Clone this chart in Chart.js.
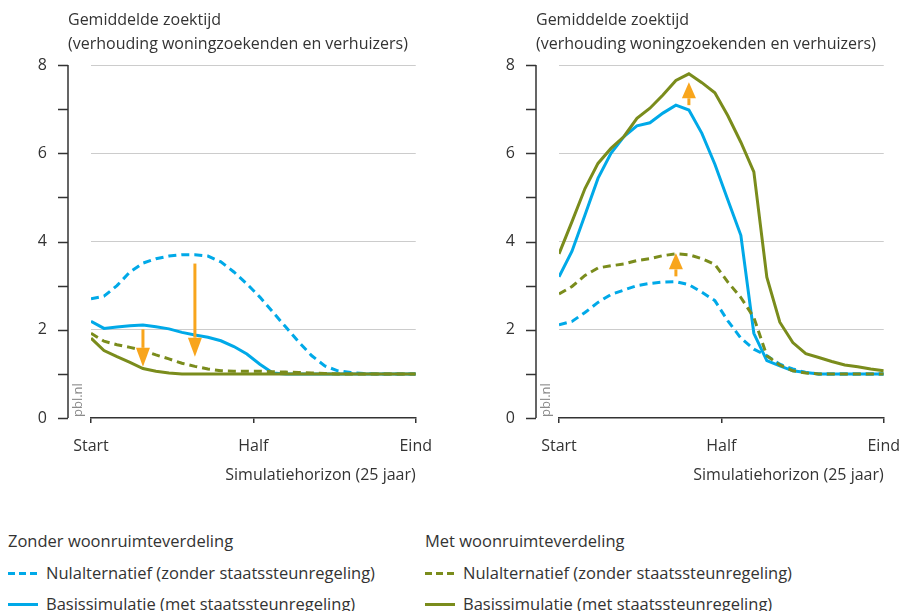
<!DOCTYPE html>
<html>
<head>
<meta charset="utf-8">
<script src="https://cdn.jsdelivr.net/npm/chart.js@4.4.0/dist/chart.umd.min.js"></script>
<style>
  body { margin: 0; background: #fff; }
  #wrap { position: relative; width: 902px; height: 611px; overflow: hidden; font-family: "Open Sans", sans-serif; color: #333; }
  .paneel { position: absolute; top: 0; width: 446px; height: 490px; }
  .leg { position: absolute; font-size: 16.5px; line-height: 20px; white-space: nowrap; }
  .staal { position: absolute; width: 30px; height: 3px; }
</style>
</head>
<body>
<div id="wrap">
  <div class="paneel" style="left:0"><canvas id="links"></canvas></div>
  <div class="paneel" style="left:468px"><canvas id="rechts"></canvas></div>
  <div id="legenda"></div>
</div>
<script>
// jaren 0..25 van de simulatie
const jaren = Array.from({ length: 26 }, (_, i) => i);
const xTicks = [0, 12.5, 25];
const xTickLabels = ['Start', 'Half', 'Eind'];

const titel = ['Gemiddelde zoektijd', '(verhouding woningzoekenden en verhuizers)'];
const xTitel = 'Simulatiehorizon (25 jaar)';

// linker paneel
const linksZonderNul   = [2.70, 2.76, 3.00, 3.31, 3.51, 3.61, 3.67, 3.70, 3.70, 3.67, 3.54, 3.31, 3.04, 2.74, 2.40, 2.06, 1.72, 1.41, 1.18, 1.07, 1.03, 1.01, 1.00, 1.00, 1.00, 1.00];
const linksZonderBasis = [2.19, 2.03, 2.06, 2.09, 2.11, 2.07, 2.02, 1.94, 1.88, 1.83, 1.75, 1.62, 1.45, 1.22, 1.02, 1.00, 1.00, 1.00, 1.00, 1.00, 1.00, 1.00, 1.00, 1.00, 1.00, 1.00];
const linksMetNul      = [1.92, 1.74, 1.66, 1.60, 1.53, 1.43, 1.34, 1.24, 1.17, 1.11, 1.07, 1.06, 1.06, 1.06, 1.05, 1.04, 1.03, 1.02, 1.01, 1.00, 1.00, 1.00, 1.00, 1.00, 1.00, 1.00];
const linksMetBasis    = [1.81, 1.53, 1.39, 1.26, 1.12, 1.06, 1.02, 1.00, 1.00, 1.00, 1.00, 1.00, 1.00, 1.00, 1.00, 1.00, 1.00, 1.00, 1.00, 1.00, 1.00, 1.00, 1.00, 1.00, 1.00, 1.00];

// rechter paneel
const rechtsZonderNul   = [2.11, 2.19, 2.39, 2.62, 2.80, 2.90, 3.00, 3.05, 3.08, 3.09, 3.02, 2.85, 2.66, 2.20, 1.81, 1.56, 1.41, 1.22, 1.11, 1.03, 1.00, 1.00, 1.00, 1.00, 1.00, 1.00];
const rechtsZonderBasis = [3.20, 3.78, 4.60, 5.43, 6.00, 6.38, 6.62, 6.69, 6.91, 7.09, 6.98, 6.45, 5.75, 4.94, 4.14, 1.92, 1.30, 1.18, 1.07, 1.03, 1.00, 1.00, 1.00, 1.00, 1.00, 1.00];
const rechtsMetNul      = [2.81, 2.98, 3.23, 3.40, 3.45, 3.49, 3.57, 3.61, 3.68, 3.72, 3.70, 3.61, 3.48, 3.08, 2.73, 2.28, 1.41, 1.20, 1.07, 1.02, 1.00, 1.00, 1.00, 1.00, 1.00, 1.00];
const rechtsMetBasis    = [3.72, 4.45, 5.20, 5.77, 6.11, 6.38, 6.79, 7.02, 7.32, 7.65, 7.80, 7.60, 7.37, 6.85, 6.25, 5.58, 3.19, 2.17, 1.71, 1.46, 1.37, 1.28, 1.20, 1.16, 1.11, 1.07];

// pijlen: jaar, beginwaarde, eindwaarde (punt)
const linksPijlen  = [{ jaar: 8, van: 3.50, naar: 1.39 }, { jaar: 4, van: 2.01, naar: 1.16 }];
const rechtsPijlen = [{ jaar: 10, van: 7.09, naar: 7.61 }, { jaar: 9, van: 3.21, naar: 3.74 }];

const BLAUW = '#00a9e8';
const GROEN = '#7a8c1c';
const ORANJE = '#f8a51c';
const TEKST = '#333333';
const FONT = '"Open Sans", sans-serif';

const reeksen = [
  { groep: 'Zonder woonruimteverdeling', label: 'Nulalternatief (zonder staatssteunregeling)', kleur: BLAUW, streep: true },
  { groep: 'Zonder woonruimteverdeling', label: 'Basissimulatie (met staatssteunregeling)', kleur: BLAUW, streep: false },
  { groep: 'Met woonruimteverdeling', label: 'Nulalternatief (zonder staatssteunregeling)', kleur: GROEN, streep: true },
  { groep: 'Met woonruimteverdeling', label: 'Basissimulatie (met staatssteunregeling)', kleur: GROEN, streep: false }
];

// y-as met streepjes links van het plotvlak, titel, bronvermelding en pijlen
const asPlugin = {
  id: 'asPlugin',
  afterDatasetsDraw(chart, args, opts) {
    const ctx = chart.ctx;
    const x = chart.scales.x, y = chart.scales.y;
    ctx.save();
    ctx.strokeStyle = ORANJE;
    ctx.fillStyle = ORANJE;
    ctx.lineWidth = 3;
    opts.pijlen.forEach(p => {
      const px = x.getPixelForValue(p.jaar);
      const y0 = y.getPixelForValue(p.van);
      const y1 = y.getPixelForValue(p.naar);
      const dir = y1 > y0 ? 1 : -1;
      const kop = Math.min(19, Math.abs(y1 - y0) * 0.7);
      ctx.beginPath();
      ctx.moveTo(px, y0);
      ctx.lineTo(px, y1 - dir * kop);
      ctx.stroke();
      ctx.beginPath();
      ctx.moveTo(px, y1);
      ctx.lineTo(px - 7, y1 - dir * kop);
      ctx.lineTo(px + 7, y1 - dir * kop);
      ctx.closePath();
      ctx.fill();
    });
    ctx.restore();
  },
  afterDraw(chart) {
    const ctx = chart.ctx;
    const y = chart.scales.y;
    const ax = chart.chartArea.left - 23;
    ctx.save();
    ctx.strokeStyle = TEKST;
    ctx.lineWidth = 1.5;
    ctx.beginPath();
    ctx.moveTo(ax, y.getPixelForValue(8));
    ctx.lineTo(ax, y.getPixelForValue(0));
    for (let v = 0; v <= 8; v++) {
      const py = Math.round(y.getPixelForValue(v)) + 0.5;
      ctx.moveTo(ax - 10, py);
      ctx.lineTo(ax, py);
    }
    ctx.stroke();

    ctx.fillStyle = TEKST;
    ctx.font = '16px ' + FONT;
    ctx.textAlign = 'left';
    ctx.textBaseline = 'middle';
    ctx.fillText(titel[0], ax, 20);
    ctx.fillText(titel[1], ax, 44);

    ctx.translate(ax + 10, y.getPixelForValue(0) - 1);
    ctx.rotate(-Math.PI / 2);
    ctx.fillStyle = '#8a8a8a';
    ctx.font = '13px ' + FONT;
    ctx.fillText('pbl.nl', 0, 0);
    ctx.restore();
  }
};

function maakGrafiek(id, waarden, pijlen) {
  const datasets = [3, 2, 1, 0].map(i => ({
    label: reeksen[i].label,
    data: waarden[i],
    borderColor: reeksen[i].kleur,
    borderWidth: 3,
    borderDash: reeksen[i].streep ? [8, 5] : [],
    pointRadius: 0,
    tension: 0,
    fill: false
  }));

  return new Chart(document.getElementById(id), {
    type: 'line',
    data: { labels: jaren, datasets: datasets },
    options: {
      responsive: true,
      maintainAspectRatio: false,
      animation: false,
      layout: { padding: { top: 65, right: 18, bottom: 1, left: 0 } },
      plugins: {
        legend: { display: false },
        tooltip: { enabled: false },
        asPlugin: { pijlen: pijlen }
      },
      scales: {
        x: {
          type: 'linear',
          min: 0,
          max: 25,
          afterBuildTicks: s => { s.ticks = xTicks.map(v => ({ value: v })); },
          afterFit: s => { s.height = 71; },
          ticks: {
            autoSkip: false,
            maxRotation: 0,
            padding: 14,
            color: TEKST,
            font: { family: FONT, size: 16 },
            callback: (v, i) => xTickLabels[i]
          },
          grid: { drawOnChartArea: false, tickLength: 5, color: TEKST, lineWidth: 1.5 },
          border: { color: TEKST, width: 1.5 },
          title: {
            display: true,
            text: xTitel,
            align: 'end',
            color: TEKST,
            font: { family: FONT, size: 16 },
            padding: { top: 4, bottom: 4 }
          }
        },
        y: {
          min: 0,
          max: 8,
          afterFit: s => { s.width = 91; },
          ticks: {
            stepSize: 1,
            padding: 44,
            color: TEKST,
            font: { family: FONT, size: 16 },
            callback: v => (v % 2 === 0 ? String(v) : '')
          },
          grid: {
            drawTicks: false,
            lineWidth: 1,
            color: c => (c.tick && c.tick.value > 0 && c.tick.value % 2 === 0) ? '#cccccc' : 'rgba(0,0,0,0)'
          },
          border: { display: false }
        }
      }
    },
    plugins: [asPlugin]
  });
}

maakGrafiek('links', [linksZonderNul, linksZonderBasis, linksMetNul, linksMetBasis], linksPijlen);
maakGrafiek('rechts', [rechtsZonderNul, rechtsZonderBasis, rechtsMetNul, rechtsMetBasis], rechtsPijlen);

// legenda in twee kolommen
const legenda = document.getElementById('legenda');
const kolomX = { 'Zonder woonruimteverdeling': 8, 'Met woonruimteverdeling': 425 };
const rijY = [541, 573, 604];
Object.keys(kolomX).forEach(groep => {
  const lx = kolomX[groep];
  const kop = document.createElement('div');
  kop.className = 'leg';
  kop.style.left = lx + 'px';
  kop.style.top = (rijY[0] - 10) + 'px';
  kop.textContent = groep;
  legenda.appendChild(kop);
  reeksen.filter(r => r.groep === groep).forEach((r, i) => {
    const staal = document.createElement('div');
    staal.className = 'staal';
    staal.style.left = lx + 'px';
    staal.style.top = (rijY[i + 1] - 1) + 'px';
    staal.style.background = r.streep
      ? 'repeating-linear-gradient(90deg,' + r.kleur + ' 0 7px, transparent 7px 11px)'
      : r.kleur;
    legenda.appendChild(staal);
    const tekst = document.createElement('div');
    tekst.className = 'leg';
    tekst.style.left = (lx + 38) + 'px';
    tekst.style.top = (rijY[i + 1] - 10) + 'px';
    tekst.textContent = r.label;
    legenda.appendChild(tekst);
  });
});
</script>
</body>
</html>
